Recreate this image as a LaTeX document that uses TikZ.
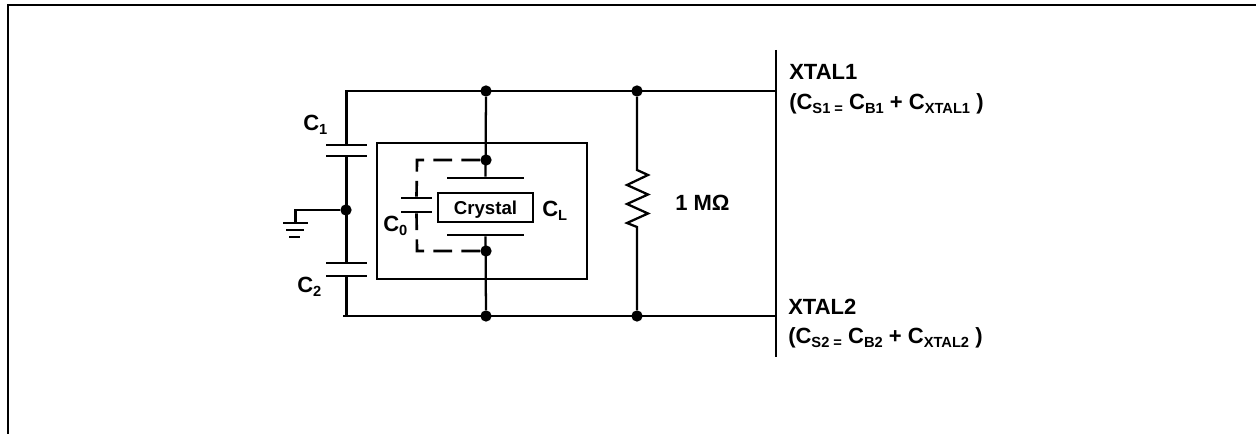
\documentclass[tikz,border=0pt]{standalone}
\usepackage{fontspec}
\setmainfont{Liberation Sans}
\newcommand{\sbs}[1]{\raisebox{-0.3ex}{\fontsize{11}{11}\selectfont #1}}
\newcommand{\csub}[1]{C\sbs{#1}}

\begin{document}
\begin{tikzpicture}
	\tikzset{x=0.75pt, y=-0.75pt}
	\tikzstyle{wire}=[line width=1.7pt]
	\tikzstyle{dashwire}=[wire, line width=2pt, dash pattern=on 14pt off 7pt]
	\tikzstyle{dot}=[circle, fill=black, inner sep=0pt, minimum size=8.5pt]
	\tikzstyle{plate}=[rectangle, fill=black, inner sep=0pt, minimum height=1.7pt]
	\tikzstyle{capplate}=[plate, minimum width=31pt]
	\tikzstyle{xplate}=[plate, minimum width=58pt]
	\tikzstyle{label}=[anchor=base west, inner sep=0pt, font=\fontsize{16.5}{19}\selectfont\bfseries]
	\useasboundingbox (0,0) rectangle (1256,434);

	\draw (8, 434)      coordinate          (fa);
	\draw (8, 5)        coordinate          (fb);
	\draw (1256, 5)     coordinate          (fc);
	\draw (776, 50)     coordinate          (bust);
	\draw (776, 357)    coordinate          (busb);
	\draw (776, 91)     coordinate          (x1);
	\draw (776, 316)    coordinate          (x2);
	\draw (346, 91)     coordinate          (tl);
	\draw (343, 316)    coordinate          (bl);
	\draw (637, 170)    coordinate          (rt);
	\draw (637, 227)    coordinate          (rb);
	\draw (417, 160)    coordinate          (dt);
	\draw (417, 251)    coordinate          (db);

	\draw (482, 211)    node[rectangle, draw, line width=1.5pt, minimum width=0.75*210pt, minimum height=0.75*136pt] (hold) {};
	\draw (485.5, 207.5) node[rectangle, draw, wire, inner sep=0pt, text depth=0pt, minimum width=0.75*95pt, minimum height=0.75*29pt, font=\fontsize{14}{16}\selectfont\bfseries] (xtal) {Crystal};

	\draw (486, 91)     node[dot]           (j1)    {};
	\draw (637, 91)     node[dot]           (j2)    {};
	\draw (486, 316)    node[dot]           (j3)    {};
	\draw (637, 316)    node[dot]           (j4)    {};
	\draw (486, 160)    node[dot]           (j5)    {};
	\draw (486, 251)    node[dot]           (j6)    {};
	\draw (346, 210)    node[dot]           (jg)    {};

	\draw (346.5, 145)  node[capplate]      (c1a)   {};
	\draw (346.5, 156)  node[capplate]      (c1b)   {};
	\draw (346.5, 263)  node[capplate]      (c2a)   {};
	\draw (346.5, 276)  node[capplate]      (c2b)   {};
	\draw (416.5, 198)  node[plate, minimum width=23.5pt] (c0a) {};
	\draw (416.5, 212)  node[plate, minimum width=23.5pt] (c0b) {};
	\draw (485.5, 178)  node[xplate]        (xa)    {};
	\draw (485.5, 235)  node[xplate]        (xb)    {};
	\draw (295.5, 223)  node[plate, minimum width=19pt]   (g1) {};
	\draw (295, 230)    node[plate, minimum width=13.5pt] (g2) {};
	\draw (294.5, 237)  node[plate, minimum width=8pt]    (g3) {};

	\draw (303, 131)    node[label]         (lc1)   {C\sbs{1}};
	\draw (297, 293)    node[label]         (lc2)   {C\sbs{2}};
	\draw (383, 232)    node[label]         (lc0)   {C\sbs{0}};
	\draw (542, 217)    node[label]         (lcl)   {C\sbs{L}};
	\draw (675, 211)    node[label]         (lr)    {1 MΩ};
	\draw (789, 80)     node[label]         (l1)    {XTAL1};
	\draw (789, 110)    node[label]         (l1s)   {(\csub{S1 =} C\sbs{B1} + \csub{XTAL1} )};
	\draw (788, 315)    node[label]         (l2)    {XTAL2};
	\draw (788, 344)    node[label]         (l2s)   {(\csub{S2 =} C\sbs{B2} + \csub{XTAL2} )};

	\draw [wire]        (fa) -- (fb) -- (fc);
	\draw [wire]        (bust) -- (busb);
	\draw [wire]        (c1a) -- (c1a |- tl) -- (x1);
	\draw [wire]        (bl) -- (x2);
	\draw [wire]        (c1b) -- (c2a);
	\draw [wire]        (c2b) -- (c2b |- bl);
	\draw [wire]        (jg) -| (g1);
	\draw [wire]        (j1) -- (xa);
	\draw [wire]        (j3) -- (xb);
	\draw [wire]        (j2) -- (rt) -- ++(11,5) -- ++(-21,10) -- ++(21,9.5) -- ++(-21,9.5) -- ++(21,9.5) -- ++(-21,9.5) -- (rb) -- (j4);
	\draw [dashwire]    (j5) -- (dt) -- (c0a);
	\draw [dashwire]    (j6) -- (db) -- (c0b);
\end{tikzpicture}
\end{document}
